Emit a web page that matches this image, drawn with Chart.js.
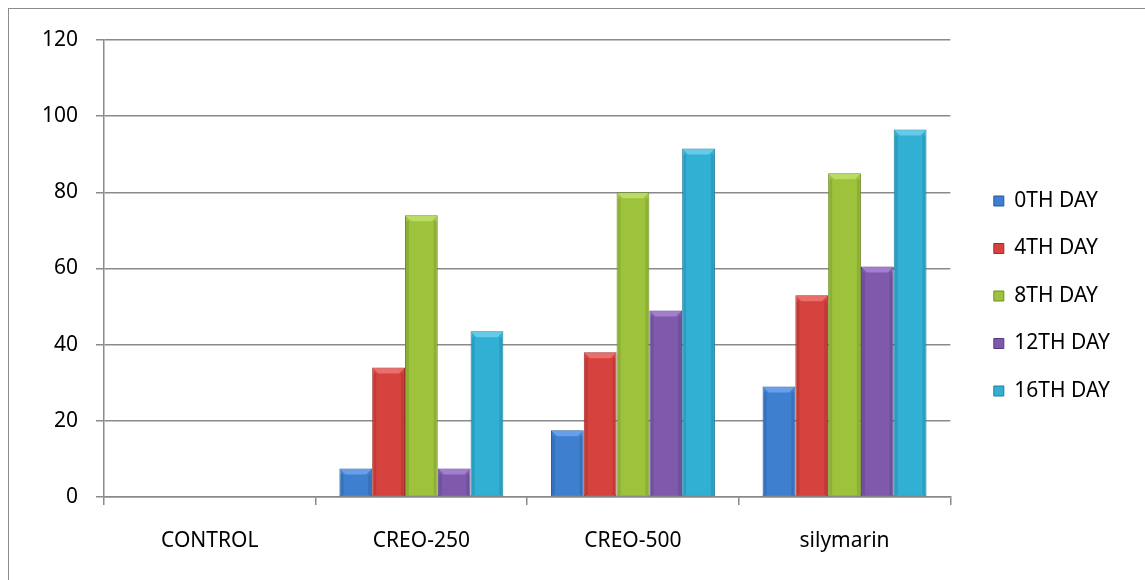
<!DOCTYPE html>
<html>
<head>
<meta charset="utf-8">
<script src="https://cdn.jsdelivr.net/npm/chart.js@4/dist/chart.umd.min.js"></script>
<style>
  html, body { margin: 0; padding: 0; background: #fff; overflow: hidden; }
  #frame {
    position: absolute; left: 8px; top: 8px;
    width: 1160px; height: 600px;
    border: 1.5px solid #8c8c8c;
    background: #fff;
  }
  #wrap { position: absolute; left: 0; top: 0; width: 1137px; height: 572px; }
</style>
</head>
<body>
<div id="frame"><div id="wrap"><canvas id="chart"></canvas></div></div>
<script>
'use strict';

// categories and series
const categories = ['CONTROL', 'CREO-250', 'CREO-500', 'silymarin'];
const seriesNames = ['0TH DAY', '4TH DAY', '8TH DAY', '12TH DAY', '16TH DAY'];
const day0  = [0, 7.5, 17.5, 29];
const day4  = [0, 34, 38, 53];
const day8  = [0, 74, 80, 85];
const day12 = [0, 7.5, 49, 60.5];
const day16 = [0, 43.5, 91.5, 96.5];
const yTicks = [0, 20, 40, 60, 80, 100, 120];

// face / edge colours per series
const faces = ['#3f7fd0', '#d6423e', '#9dc23b', '#7f59ab', '#32b0d4'];
const edges = ['#285a9a', '#9e2c29', '#6f8f27', '#573c7d', '#1e7f9d'];
const lights = ['#6fa6ec', '#f07672', '#c1e06a', '#a985d3', '#6fd0ec'];

const FONT = '"Noto Sans", sans-serif';
const GRID = '#8a8a8a';

// soft bevel: lighter top facet and darker side strips on every bar
const bevelPlugin = {
    id: 'bevel',
    afterDatasetsDraw(chart) {
        const ctx = chart.ctx;
        chart.data.datasets.forEach((ds, i) => {
            const meta = chart.getDatasetMeta(i);
            meta.data.forEach(bar => {
                const h = bar.base - bar.y;
                if (h < 1) return;
                const left = bar.x - bar.width / 2;
                const right = bar.x + bar.width / 2;
                const b = Math.min(6, h / 2);
                ctx.save();
                // top facet
                ctx.fillStyle = lights[i];
                ctx.globalAlpha = 0.85;
                ctx.beginPath();
                ctx.moveTo(left + 1, bar.y + 1);
                ctx.lineTo(right - 1, bar.y + 1);
                ctx.lineTo(right - b, bar.y + b);
                ctx.lineTo(left + b, bar.y + b);
                ctx.closePath();
                ctx.fill();
                // side shading
                ctx.globalAlpha = 0.35;
                ctx.fillStyle = edges[i];
                ctx.fillRect(left + 1, bar.y + b, 3, h - b - 1);
                ctx.fillRect(right - 4, bar.y + b, 3, h - b - 1);
                ctx.restore();
            });
        });
    }
};

// empty layout box between the plot and the legend (keeps the legend away from the plot)
const legendGap = {
    id: 'legendGap',
    beforeInit(chart) {
        const gap = {
            position: 'right',
            weight: 0,
            fullSize: false,
            options: {},
            left: 0, top: 0, right: 0, bottom: 0, width: 0, height: 0,
            isHorizontal() { return false; },
            update(maxWidth, maxHeight) {
                this.width = 17;
                this.height = maxHeight;
            },
            draw() {}
        };
        Chart.layouts.addBox(chart, gap);
    }
};

const valueSets = [day0, day4, day8, day12, day16];

new Chart(document.getElementById('chart'), {
    type: 'bar',
    data: {
        labels: categories,
        datasets: seriesNames.map((name, i) => ({
            label: name,
            data: valueSets[i],
            backgroundColor: faces[i],
            borderColor: edges[i],
            borderWidth: 1,
            borderSkipped: false,
            categoryPercentage: 0.775,
            barPercentage: 1
        }))
    },
    options: {
        responsive: true,
        maintainAspectRatio: false,
        animation: false,
        layout: { padding: { left: 0, top: 31, right: 26, bottom: 29 } },
        scales: {
            x: {
                offset: true,
                grid: {
                    offset: true,
                    drawOnChartArea: false,
                    drawTicks: true,
                    tickLength: 8,
                    color: GRID,
                    lineWidth: 1.5
                },
                border: { display: true, color: GRID, width: 1.5 },
                ticks: {
                    padding: 23,
                    color: '#000',
                    font: { family: FONT, size: 21 }
                },
                afterFit(scale) { scale.height = 55; }
            },
            y: {
                min: 0,
                max: 120,
                afterBuildTicks(scale) {
                    scale.ticks = yTicks.map(v => ({ value: v }));
                },
                grid: {
                    color: GRID,
                    lineWidth: 1.5,
                    drawTicks: true,
                    tickLength: 8
                },
                border: { display: true, color: GRID, width: 1.5 },
                ticks: {
                    padding: 18,
                    color: '#000',
                    font: { family: FONT, size: 21 }
                },
                afterFit(scale) { scale.width = 95; }
            }
        },
        plugins: {
            legend: {
                position: 'right',
                align: 'center',
                labels: {
                    boxWidth: 10,
                    boxHeight: 10,
                    padding: 26.5,
                    color: '#000',
                    font: { family: FONT, size: 21 }
                }
            },
            tooltip: { enabled: false }
        }
    },
    plugins: [bevelPlugin, legendGap]
});
</script>
</body>
</html>
